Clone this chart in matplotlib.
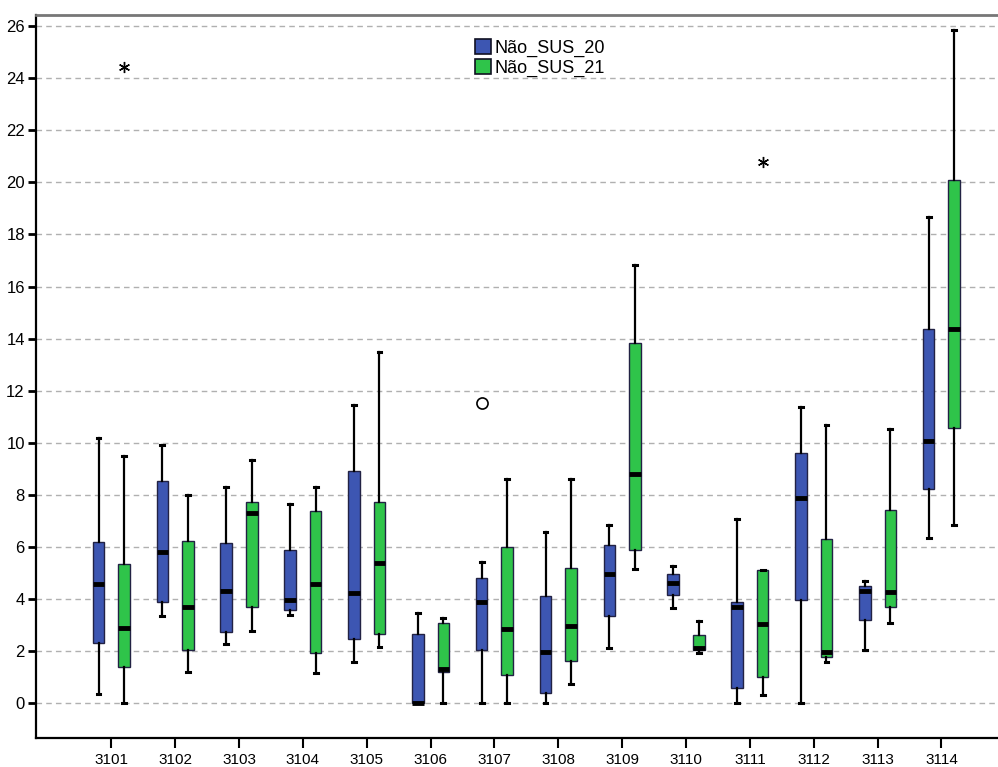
import matplotlib
matplotlib.use("Agg")
import matplotlib.pyplot as plt
from matplotlib.patches import Patch
import numpy as np

plt.rcParams['font.family'] = ['Liberation Sans Narrow', 'Liberation Sans', 'DejaVu Sans']

categories = ['3101', '3102', '3103', '3104', '3105', '3106', '3107',
              '3108', '3109', '3110', '3111', '3112', '3113', '3114']

# box statistics: whisker low, Q1, median, Q3, whisker high
sus20_low = [0.35, 3.34, 2.27, 3.38, 1.57, 0.0, 0.0, 0.0, 2.12, 3.66, 0.0, 0.0, 2.03, 6.35]
sus20_q1 = [2.29, 3.89, 2.71, 3.57, 2.46, 0.0, 2.04, 0.40, 3.35, 4.14, 0.58, 3.95, 3.17, 8.23]
sus20_med = [4.56, 5.79, 4.30, 3.96, 4.21, 0.0, 3.87, 1.97, 4.94, 4.60, 3.70, 7.88, 4.32, 10.08]
sus20_q3 = [6.19, 8.54, 6.14, 5.88, 8.90, 2.64, 4.80, 4.12, 6.06, 4.94, 3.88, 9.61, 4.48, 14.38]
sus20_high = [10.2, 9.93, 8.29, 7.64, 11.44, 3.44, 5.40, 6.55, 6.84, 5.27, 7.05, 11.39, 4.67, 18.68]

sus21_low = [0.0, 1.19, 2.76, 1.14, 2.14, 0.0, 0.0, 0.73, 5.13, 1.93, 0.32, 1.59, 3.07, 6.82]
sus21_q1 = [1.37, 2.04, 3.70, 1.93, 2.64, 1.20, 1.08, 1.61, 5.88, 2.04, 1.00, 1.76, 3.67, 10.58]
sus21_med = [2.89, 3.67, 7.28, 4.58, 5.36, 1.31, 2.83, 2.97, 8.78, 2.12, 3.03, 1.94, 4.28, 14.37]
sus21_q3 = [5.33, 6.23, 7.71, 7.39, 7.71, 3.06, 5.98, 5.18, 13.82, 2.61, 5.11, 6.29, 7.40, 20.08]
sus21_high = [9.50, 8.00, 9.32, 8.28, 13.48, 3.25, 8.59, 8.59, 16.82, 3.14, 5.11, 10.68, 10.51, 25.84]

# outliers: (category index, series, value, marker)
outlier_cat = [0, 6, 10]
outlier_series = ['21', '20', '21']
outlier_val = [24.42, 11.53, 20.77]
outlier_kind = ['*', 'o', '*']

blue = '#3d56b2'
green = '#2fc44a'
offset = 0.2
width = 0.18

fig = plt.figure(figsize=(9.98, 7.67), dpi=100)
ax = fig.add_axes([0.036, 0.038, 0.97, 0.942])

x = np.arange(len(categories))


def stats(low, q1, med, q3, high):
    return [dict(whislo=a, q1=b, med=c, q3=d, whishi=e)
            for a, b, c, d, e in zip(low, q1, med, q3, high)]


for series, pos, col in [
        (stats(sus20_low, sus20_q1, sus20_med, sus20_q3, sus20_high), x - offset, blue),
        (stats(sus21_low, sus21_q1, sus21_med, sus21_q3, sus21_high), x + offset, green)]:
    ax.bxp(series, positions=pos, widths=width, showfliers=False, patch_artist=True,
           boxprops=dict(facecolor=col, edgecolor='#222244', linewidth=1.0),
           medianprops=dict(color='black', linewidth=3.5, solid_capstyle='butt'),
           whiskerprops=dict(color='black', linewidth=1.6),
           capprops=dict(color='black', linewidth=2.2),
           capwidths=0.06, zorder=3)

for c, s, v, k in zip(outlier_cat, outlier_series, outlier_val, outlier_kind):
    px = c - offset if s == '20' else c + offset
    if k == 'o':
        ax.plot(px, v, 'o', mfc='none', mec='black', ms=8, mew=1.2, zorder=4)
    else:
        ax.plot(px, v, marker=(6, 2, 0), color='black', ms=8, mew=1.0, ls='none', zorder=4)

ax.set_xlim(-1.18, 13.98)
ax.set_ylim(-1.34, 26.42)
ax.set_xticks(x)
ax.set_xticklabels(categories, fontsize=11)
ax.set_yticks(np.arange(0, 27, 2))
ax.tick_params(axis='y', labelsize=12, length=6, width=2, direction='out', pad=2)
ax.tick_params(axis='x', length=7, width=1.5, direction='out', pad=4)
ax.yaxis.grid(True, linestyle=(0, (4, 3)), color='#b0b0b0', linewidth=1.0, zorder=0)
ax.set_axisbelow(True)

ax.spines['right'].set_visible(False)
ax.spines['top'].set_color('#777777')
ax.spines['top'].set_linewidth(2)
ax.spines['left'].set_linewidth(1.6)
ax.spines['bottom'].set_linewidth(1.6)

handles = [Patch(facecolor=blue, edgecolor='#111122', linewidth=1.2, label='Não_SUS_20'),
           Patch(facecolor=green, edgecolor='#111122', linewidth=1.2, label='Não_SUS_21')]
ax.legend(handles=handles, loc='upper left', bbox_to_anchor=(0.44, 0.985), frameon=False,
          fontsize=13, handlelength=0.9, handleheight=0.9, handletextpad=0.2,
          labelspacing=0.15, borderpad=0.2)

fig.savefig('out.png', dpi=100)
